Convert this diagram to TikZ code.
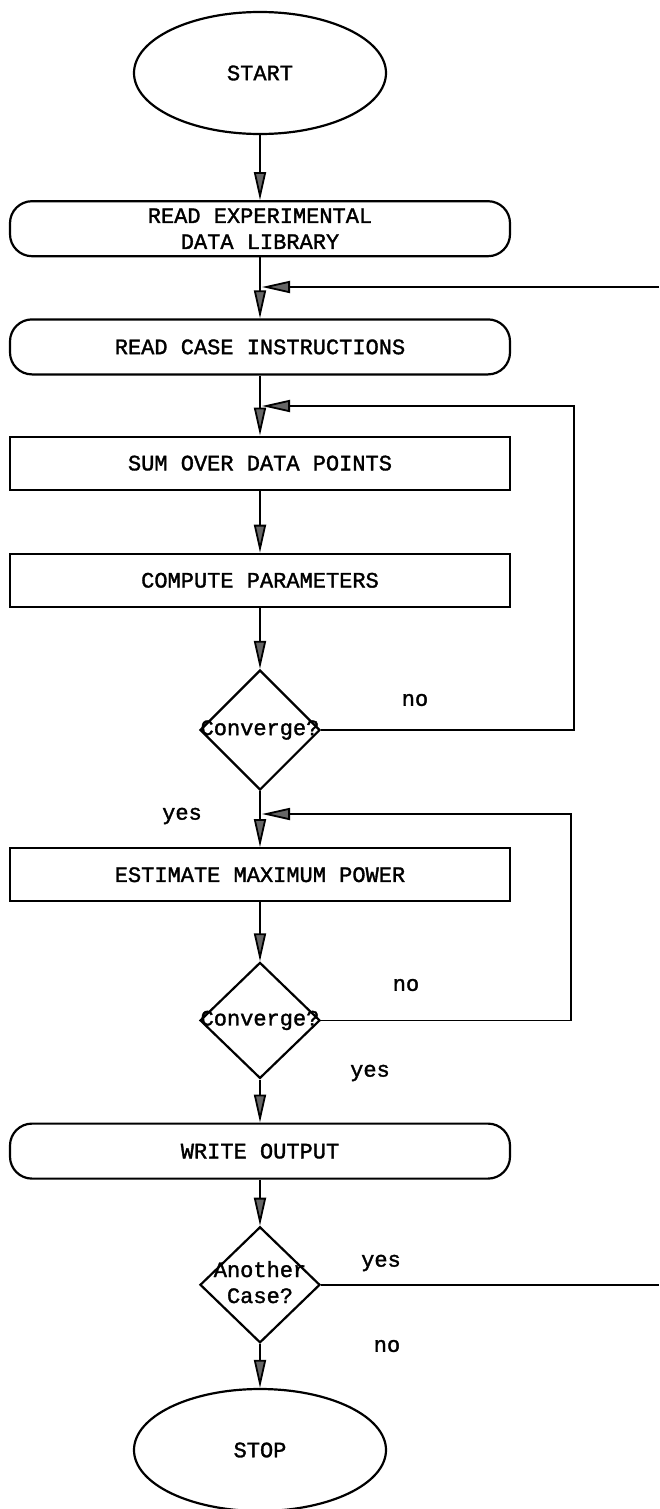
\documentclass[tikz,border=0pt]{standalone}
\usepackage{fontspec}
\newfontfamily\typewriter{Liberation Mono}[FakeBold=1.5]
\usetikzlibrary{arrows.meta,positioning,shapes.geometric}

\begin{document}
\begin{tikzpicture}[
  x=1pt, y=-1pt,
  node distance=62pt,
  every node/.style={font=\typewriter\fontsize{22}{26}\selectfont, align=center},
  terminal/.style={draw, ellipse, line width=2.2pt, minimum width=252pt,
    minimum height=122pt, inner sep=0pt},
  io/.style={draw, rounded corners=22pt, line width=2.2pt, minimum width=500pt,
    minimum height=55pt, inner sep=0pt},
  process/.style={draw, line width=2.2pt, minimum width=500pt,
    minimum height=53pt, inner sep=0pt},
  decision/.style={draw, diamond, line width=2.2pt, minimum width=120pt,
    minimum height=116pt, inner sep=0pt},
  answer/.style={inner sep=0pt},
  arrow/.style={-{Triangle[length=28pt, width=12pt, fill=black!60]}, line width=1.8pt}
]
\useasboundingbox (0,0) rectangle (659,1509);

\node[terminal] (start) at (260,73) {START};
\node[io, below=65pt of start] (readlib) {READ EXPERIMENTAL\\DATA LIBRARY};
\node[io, below=61pt of readlib] (readcase) {READ CASE INSTRUCTIONS};
\node[process, below=60pt of readcase] (sumdata) {SUM OVER DATA POINTS};
\node[process, below=of sumdata] (compute) {COMPUTE PARAMETERS};
\node[decision, minimum height=120pt, below=61pt of compute] (conv1) {\makebox[0pt]{Converge?}};
\node[process, below=56pt of conv1] (estimate) {ESTIMATE MAXIMUM POWER};
\node[decision, below=59pt of estimate] (conv2) {\makebox[0pt]{Converge?}};
\node[io, below=43pt of conv2] (writeout) {WRITE OUTPUT};
\node[decision, below=46pt of writeout] (another)
  {\makebox[0pt]{\begin{tabular}{@{}c@{}}Another\\Case?\end{tabular}}};
\node[terminal, below=44pt of another] (stop) {STOP};

\node[answer] (no1) at (415,700) {no};
\node[answer] (yes1) at (182,816) {yes};
\node[answer] (no2) at (406,985) {no};
\node[answer] (yes2) at (370,1073) {yes};
\node[answer] (yes3) at (381,1263) {yes};
\node[answer] (no3) at (387,1346) {no};

\coordinate (back0) at (262,287);
\coordinate (back1) at (262,406);
\coordinate (back2) at (262,814);
\coordinate (outertop) at (659,287);
\coordinate (outerbot) at (another.east -| outertop);

\draw[arrow] (start) -- (readlib);
\draw[arrow] (readlib) -- (readcase);
\draw[arrow] (readcase) -- (sumdata);
\draw[arrow] (sumdata) -- (compute);
\draw[arrow] (compute) -- (conv1);
\draw[arrow] (conv1) -- (estimate);
\draw[arrow] (estimate) -- (conv2);
\draw[arrow] (conv2) -- (writeout);
\draw[arrow] (writeout) -- (another);
\draw[arrow] (another) -- (stop);
\draw[arrow] (conv1.east) -- ++(253,0) |- (back1);
\draw[arrow] (conv2.east) -- ++(250,0) |- (back2);
\draw[line width=1.8pt] (another.east) -- (outerbot);
\draw[arrow] (outertop) -- (back0);
\end{tikzpicture}
\end{document}
